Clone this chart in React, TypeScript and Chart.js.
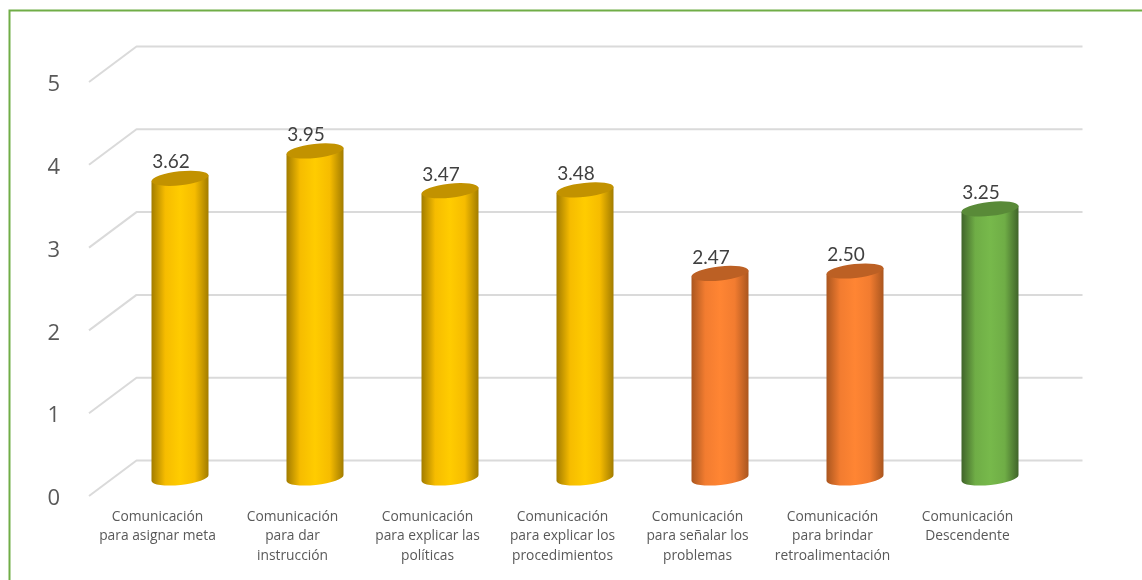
import React, { useEffect, useRef } from "react";
import { Chart, registerables } from "chart.js";

Chart.register(...registerables);

const categories = [
  ["Comunicación", "para asignar meta"],
  ["Comunicación", "para dar", "instrucción"],
  ["Comunicación", "para explicar las", "políticas"],
  ["Comunicación", "para explicar los", "procedimientos"],
  ["Comunicación", "para señalar los", "problemas"],
  ["Comunicación", "para brindar", "retroalimentación"],
  ["Comunicación", "Descendente"],
];
const values = [3.62, 3.95, 3.47, 3.48, 2.47, 2.5, 3.25];
const midColors = ["#FFCC00", "#FFCC00", "#FFCC00", "#FFCC00", "#FF8533", "#FF8533", "#77B94B"];
const shoulderColors = ["#F6BC00", "#F6BC00", "#F6BC00", "#F6BC00", "#F27C30", "#F27C30", "#6FAD46"];
const edgeColors = ["#A27C00", "#A27C00", "#A27C00", "#A27C00", "#AA561F", "#AA561F", "#40642A"];
const topColors = ["#C29200", "#C29200", "#C29200", "#C29200", "#BC6024", "#BC6024", "#598A38"];
const yTicks = [0, 1, 2, 3, 4, 5];

const DEPTH_X = 46.5;
const DEPTH_Y = 35.5;
const BAR_DX = 22.5;
const BAR_DY = 18;
const TILT = (-6.2 * Math.PI) / 180;
const RY = 7;

const paint = {
  id: "paint",
  beforeDraw(chart: any) {
    const { ctx, width, height } = chart;
    ctx.save();
    ctx.fillStyle = "#ffffff";
    ctx.fillRect(0, 0, width, height);
    ctx.strokeStyle = "#70AD47";
    ctx.lineWidth = 2;
    ctx.beginPath();
    ctx.moveTo(9.5, height);
    ctx.lineTo(9.5, 10.5);
    ctx.lineTo(width, 10.5);
    ctx.stroke();
    ctx.restore();
  },
  beforeDatasetsDraw(chart: any) {
    const { ctx, chartArea, scales } = chart;
    ctx.save();
    ctx.strokeStyle = "#DADADA";
    ctx.lineWidth = 2;
    ctx.lineJoin = "round";
    yTicks.forEach((t) => {
      const y = scales.y.getPixelForValue(t);
      ctx.beginPath();
      ctx.moveTo(chartArea.left - 1, y);
      ctx.lineTo(chartArea.left + DEPTH_X, y - DEPTH_Y);
      ctx.lineTo(chartArea.right + DEPTH_X + 1, y - DEPTH_Y);
      ctx.stroke();
    });
    ctx.restore();
  },
  beforeDatasetDraw(chart: any, args: any) {
    const { ctx } = chart;
    const meta = chart.getDatasetMeta(args.index);
    meta.data.forEach((el: any, i: number) => {
      const { x: ex, y: ey, base, width: w } = el.getProps(["x", "y", "base", "width"], true);
      const x = ex + BAR_DX;
      const top = ey - BAR_DY;
      const bot = base - BAR_DY;
      const rx = w / 2;
      const a = rx / Math.cos(TILT);
      const dy = rx * Math.tan(-TILT);
      const g = ctx.createLinearGradient(x - rx, 0, x + rx, 0);
      g.addColorStop(0, edgeColors[i]);
      g.addColorStop(0.24, shoulderColors[i]);
      g.addColorStop(0.5, midColors[i]);
      g.addColorStop(0.76, shoulderColors[i]);
      g.addColorStop(1, edgeColors[i]);
      ctx.save();
      ctx.fillStyle = g;
      ctx.beginPath();
      ctx.moveTo(x - rx, top + dy);
      ctx.lineTo(x - rx, bot + dy);
      ctx.ellipse(x, bot, a, RY, TILT, Math.PI, 0, true);
      ctx.lineTo(x + rx, top - dy);
      ctx.closePath();
      ctx.fill();
      ctx.fillStyle = topColors[i];
      ctx.beginPath();
      ctx.ellipse(x, top, a, RY, TILT, 0, Math.PI * 2);
      ctx.fill();
      ctx.restore();
    });
    return false;
  },
  afterDatasetsDraw(chart: any) {
    const { ctx } = chart;
    const meta = chart.getDatasetMeta(0);
    ctx.save();
    ctx.font = '19px Lato';
    ctx.fillStyle = "#404040";
    ctx.textAlign = "center";
    ctx.textBaseline = "middle";
    meta.data.forEach((el: any, i: number) => {
      ctx.fillText(values[i].toFixed(2), el.x + BAR_DX - 9, el.y - BAR_DY - 16);
    });
    ctx.restore();
  },
};

export default function App() {
  const ref = useRef<HTMLCanvasElement>(null);
  useEffect(() => {
    const chart = new Chart(ref.current!, {
      type: "bar",
      data: {
        labels: categories as any,
        datasets: [
          {
            data: values,
            backgroundColor: midColors,
            barThickness: 57,
          },
        ],
      },
      options: {
        animation: false,
        responsive: false,
        layout: { padding: { top: 82, right: 107, left: 0, bottom: 0 } },
        plugins: { legend: { display: false }, tooltip: { enabled: false } },
        scales: {
          x: {
            grid: { display: false },
            border: { display: false },
            ticks: {
              maxRotation: 0,
              autoSkip: false,
              padding: 3,
              color: "#595959",
              font: { family: "Open Sans", size: 13.8, lineHeight: 1.42 },
            },
            afterFit(s: any) {
              s.height = 84;
            },
          },
          y: {
            min: 0,
            max: 5,
            grid: { display: false },
            border: { display: false },
            afterBuildTicks(s: any) {
              s.ticks = yTicks.map((value) => ({ value }));
            },
            ticks: {
              padding: 22,
              labelOffset: 3,
              color: "#595959",
              font: { family: "Open Sans", size: 22 },
            },
            afterFit(s: any) {
              s.width = 90;
            },
          },
        },
      },
      plugins: [paint],
    } as any);
    return () => chart.destroy();
  }, []);
  return (
    <div style={{ position: "absolute", left: 0, top: 0, width: 1142, height: 580 }}>
      <canvas ref={ref} width={1142} height={580} style={{ display: "block" }} />
    </div>
  );
}
